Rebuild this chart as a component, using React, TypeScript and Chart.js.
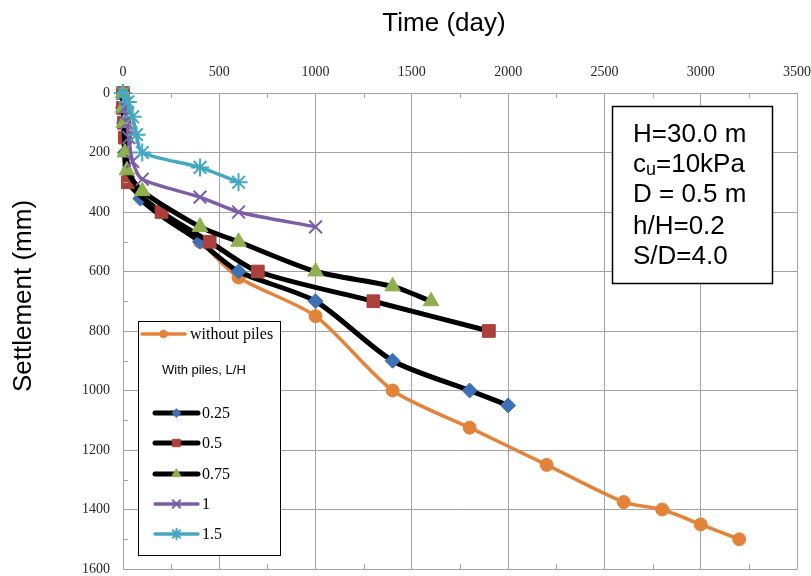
import { useEffect, useRef } from 'react';
import { Chart, registerables } from 'chart.js';
import { drawPoint } from 'chart.js/helpers';

Chart.register(...registerables);

// ---- axis ticks ----
const xTickValues = [0, 500, 1000, 1500, 2000, 2500, 3000, 3500];
const yTickValues = [0, 200, 400, 600, 800, 1000, 1200, 1400, 1600];
const xMinorTicks = [250, 750, 1250, 1750, 2250, 2750, 3250];
const yMinorTicks = [100, 300, 500, 700, 900, 1100, 1300, 1500];

// ---- series (time in days, settlement in mm) ----
const noPileTime = [0, 10, 30, 400, 600, 1000, 1400, 1800, 2200, 2600, 2800, 3000, 3200];
const noPileSettle = [0, 150, 300, 500, 620, 750, 1000, 1125, 1250, 1375, 1400, 1450, 1500];

const l025Time = [0, 0, 5, 10, 90, 400, 600, 1000, 1400, 1800, 2000];
const l025Settle = [0, 50, 100, 200, 355, 500, 600, 700, 900, 1000, 1050];

const l05Time = [0, 0, 5, 10, 25, 200, 450, 700, 1300, 1900];
const l05Settle = [0, 50, 100, 150, 300, 400, 500, 600, 700, 800];

const l075Time = [0, 0, 5, 10, 20, 100, 400, 600, 1000, 1400, 1600];
const l075Settle = [0, 50, 100, 200, 260, 330, 450, 500, 600, 650, 700];

const l1Time = [0, 10, 20, 30, 50, 100, 400, 600, 1000];
const l1Settle = [0, 50, 100, 150, 230, 290, 350, 400, 450];

const l15Time = [0, 25, 50, 70, 100, 400, 600];
const l15Settle = [0, 30, 80, 140, 200, 250, 300];

const seriesLabels = ['without piles', '0.25', '0.5', '0.75', '1', '1.5'];
const legendHeader = 'With piles, L/H';
const xTitle = 'Time (day)';
const yTitle = 'Settlement (mm)';
const infoLines = ['H=30.0 m', 'c|u|=10kPa', 'D = 0.5 m', 'h/H=0.2', 'S/D=4.0'];

const GRID = '#a3a3a3';
const SANS = '"Liberation Sans", Arial, sans-serif';
const SERIF = '"Liberation Serif", "Times New Roman", serif';

const pts = (xs: number[], ys: number[]) => xs.map((x, i) => ({ x, y: ys[i] }));

const overlayPlugin = {
  id: 'overlay',
  afterDraw(chart: any) {
    const { ctx, chartArea: a, scales } = chart;
    const xs = scales.x;
    const ys = scales.y;
    ctx.save();

    // minor ticks (inside)
    ctx.strokeStyle = GRID;
    ctx.lineWidth = 1;
    ctx.beginPath();
    for (const v of xMinorTicks) {
      const px = Math.round(xs.getPixelForValue(v)) + 0.5;
      ctx.moveTo(px, a.top);
      ctx.lineTo(px, a.top + 5);
      ctx.moveTo(px, a.bottom);
      ctx.lineTo(px, a.bottom - 5);
    }
    for (const v of yMinorTicks) {
      const py = Math.round(ys.getPixelForValue(v)) + 0.5;
      ctx.moveTo(a.left, py);
      ctx.lineTo(a.left + 5, py);
    }
    ctx.stroke();

    // axis titles
    ctx.fillStyle = '#000';
    ctx.font = `26px ${SANS}`;
    ctx.textAlign = 'center';
    ctx.textBaseline = 'middle';
    ctx.fillText(xTitle, 444, 24);
    ctx.save();
    ctx.translate(24, 296);
    ctx.rotate(-Math.PI / 2);
    ctx.fillText(yTitle, 0, 0);
    ctx.restore();

    // legend box
    const lx = 138.5, ly = 321.5, lw = 142, lh = 234;
    ctx.fillStyle = '#fff';
    ctx.fillRect(lx, ly, lw, lh);
    ctx.strokeStyle = '#000';
    ctx.lineWidth = 1;
    ctx.strokeRect(lx, ly, lw, lh);

    const dsets = chart.data.datasets;
    const rows = [
      { i: 0, y: 334, x0: 142, x1: 185, tx: 190 },
      { i: 1, y: 413, x0: 155, x1: 198, tx: 202 },
      { i: 2, y: 443, x0: 155, x1: 198, tx: 202 },
      { i: 3, y: 474, x0: 155, x1: 198, tx: 202 },
      { i: 4, y: 504, x0: 155, x1: 198, tx: 202 },
      { i: 5, y: 534, x0: 155, x1: 198, tx: 202 },
    ];
    for (const r of rows) {
      const d = dsets[r.i];
      ctx.strokeStyle = d.borderColor;
      ctx.lineWidth = d.borderWidth;
      ctx.lineCap = 'round';
      ctx.beginPath();
      ctx.moveTo(r.x0, r.y);
      ctx.lineTo(r.x1, r.y);
      ctx.stroke();
      ctx.fillStyle = d.pointBackgroundColor;
      ctx.strokeStyle = d.pointBorderColor;
      ctx.lineWidth = d.pointBorderWidth;
      drawPoint(ctx, { pointStyle: d.pointStyle, rotation: 0, radius: d.pointRadius * 0.58, borderWidth: d.pointBorderWidth }, (r.x0 + r.x1) / 2, r.y);
      ctx.fillStyle = '#000';
      ctx.font = `16px ${SERIF}`;
      ctx.textAlign = 'left';
      ctx.textBaseline = 'middle';
      ctx.fillText(d.label, r.tx, r.y + 1);
    }
    ctx.font = `13px ${SANS}`;
    ctx.fillStyle = '#000';
    ctx.textAlign = 'left';
    ctx.fillText(legendHeader, 162, 370);

    // info box
    const bx = 612.5, by = 106.5, bw = 160, bh = 177;
    ctx.fillStyle = '#fff';
    ctx.fillRect(bx, by, bw, bh);
    ctx.strokeStyle = '#000';
    ctx.lineWidth = 1.5;
    ctx.strokeRect(bx, by, bw, bh);
    ctx.fillStyle = '#000';
    ctx.textBaseline = 'alphabetic';
    const lineY = [142, 172, 202, 234, 264];
    infoLines.forEach((t, i) => {
      const parts = t.split('|');
      let x = 633;
      parts.forEach((p, k) => {
        const sub = k === 1;
        ctx.font = sub ? `18px ${SANS}` : `26px ${SANS}`;
        ctx.fillText(p, x, lineY[i] + (sub ? 3 : 0));
        x += ctx.measureText(p).width;
      });
    });

    ctx.restore();
  },
};

export default function App() {
  const ref = useRef<HTMLCanvasElement | null>(null);

  useEffect(() => {
    document.body.style.margin = '0';
    const canvas = ref.current;
    if (!canvas) return;

    const mk = (
      i: number,
      xs: number[],
      ys: number[],
      line: string,
      width: number,
      fill: string,
      stroke: string,
      style: string,
      radius: number,
      pbw: number,
      order: number,
    ) => ({
      label: seriesLabels[i],
      data: pts(xs, ys),
      showLine: true,
      borderColor: line,
      backgroundColor: fill,
      borderWidth: width,
      pointBackgroundColor: fill,
      pointBorderColor: stroke,
      pointBorderWidth: pbw,
      pointStyle: style,
      pointRadius: radius,
      pointHoverRadius: radius,
      tension: 0.25,
      order,
      clip: false,
    });

    const chart = new Chart(canvas, {
      type: 'scatter',
      data: {
        datasets: [
          mk(0, noPileTime, noPileSettle, '#E3823A', 3.5, '#E3823A', '#E3823A', 'circle', 6.5, 1, 6),
          mk(1, l025Time, l025Settle, '#000000', 5, '#3D70B4', '#3D70B4', 'rectRot', 7.5, 1, 5),
          mk(2, l05Time, l05Settle, '#000000', 5, '#AC403C', '#AC403C', 'rect', 9, 1, 4),
          mk(3, l075Time, l075Settle, '#000000', 5, '#8FB04E', '#8FB04E', 'triangle', 9, 1, 3),
          mk(4, l1Time, l1Settle, '#7B5EA6', 3.5, '#7B5EA6', '#7B5EA6', 'crossRot', 9, 2, 2),
          mk(5, l15Time, l15Settle, '#45A7C0', 3.5, '#45A7C0', '#45A7C0', 'star', 9, 2, 1),
        ] as any,
      },
      options: {
        responsive: false,
        animation: false,
        events: [],
        layout: { padding: 0, autoPadding: false },
        plugins: { legend: { display: false }, tooltip: { enabled: false } },
        scales: {
          x: {
            type: 'linear',
            position: 'top',
            min: 0,
            max: 3500,
            afterBuildTicks: (s: any) => {
              s.ticks = xTickValues.map((v) => ({ value: v }));
            },
            afterFit: (s: any) => {
              s.height = 93;
              s.paddingLeft = 0;
              s.paddingRight = 14;
              s.paddingTop = 0;
              s.paddingBottom = 7;
            },
            ticks: {
              font: { family: SERIF, size: 14 },
              color: '#262626',
              padding: 12,
              autoSkip: false,
              maxRotation: 0,
              callback: (v: any) => String(v),
            },
            grid: { color: GRID, drawTicks: false, lineWidth: 1 },
            border: { color: GRID },
          },
          y: {
            type: 'linear',
            reverse: true,
            min: 0,
            max: 1600,
            afterBuildTicks: (s: any) => {
              s.ticks = yTickValues.map((v) => ({ value: v }));
            },
            afterFit: (s: any) => {
              s.width = 123;
              s.paddingTop = 0;
              s.paddingBottom = 7;
              s.paddingLeft = 0;
              s.paddingRight = 0;
            },
            ticks: {
              font: { family: SERIF, size: 14 },
              color: '#262626',
              padding: 13,
              autoSkip: false,
              callback: (v: any) => String(v),
            },
            grid: { color: GRID, drawTicks: false, lineWidth: 1 },
            border: { color: GRID },
          },
        },
      } as any,
      plugins: [overlayPlugin],
    });

    return () => chart.destroy();
  }, []);

  return (
    <div style={{ position: 'absolute', left: 0, top: 0, width: 811, height: 576, background: '#fff' }}>
      <canvas ref={ref} width={811} height={576} style={{ display: 'block' }} />
    </div>
  );
}
